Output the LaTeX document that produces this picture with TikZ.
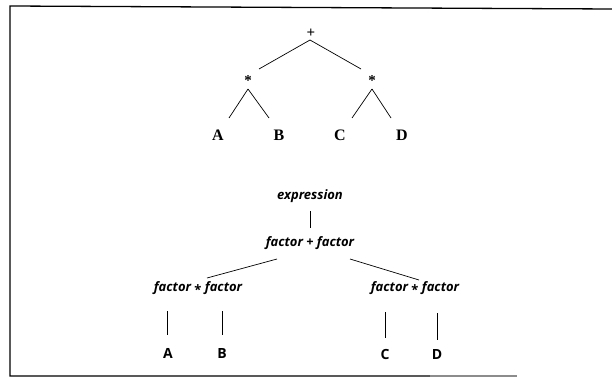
\documentclass[tikz,border=0pt]{standalone}
\usepackage{fontspec}
\setmainfont{Liberation Serif}
\newfontfamily\labfont{Open Sans}
\usetikzlibrary{calc}
\newcommand{\mstar}{\raisebox{-0.45ex}{\upshape *}}
\begin{document}
\begin{tikzpicture}[x=1pt,y=-1pt,
  topl/.style={inner sep=0pt,font=\fontsize{16}{16}\selectfont\bfseries},
  opl/.style={inner sep=0pt,font=\fontsize{15}{15}\selectfont\bfseries},
  botl/.style={inner sep=0pt,font=\labfont\fontsize{13}{13}\selectfont\bfseries\itshape},
  leaf/.style={inner sep=0pt,font=\labfont\fontsize{14}{14}\selectfont\bfseries},
  edge/.style={line width=0.7pt,black},
  frame/.style={line width=1.3pt,black}]
\useasboundingbox (0,0) rectangle (612,377);
% frame
\coordinate (f1) at (10,6);
\coordinate (f2) at (612,9);
\coordinate (f3) at (10,376);
\coordinate (f4) at (430,376);
\coordinate (f5) at (517,376);
\draw[frame] (f2) -- (f1) -- (f3) -- (f4);
\draw[frame,black!45] (f4) -- (f5);
% top tree
\node[opl] (plus) at (311,33) {+};
\node[opl] (sL) at (248,81) {*};
\node[opl] (sR) at (372,81) {*};
\node[topl] (tA) at (218,135) {A};
\node[topl] (tB) at (279,135) {B};
\node[topl] (tC) at (340,135) {C};
\node[topl] (tD) at (402,135) {D};
\draw[edge] ($(plus)+(-1,7)$) -- ($(sL)+(11,-12)$);
\draw[edge] ($(plus)+(-1,7)$) -- ($(sR)+(-11,-12)$);
\draw[edge] ($(sL)+(0,8)$) -- ($(tA)+(11,-17)$);
\draw[edge] ($(sL)+(0,8)$) -- ($(tB)+(-10,-17)$);
\draw[edge] ($(sR)+(0,8)$) -- ($(tC)+(12,-17)$);
\draw[edge] ($(sR)+(0,8)$) -- ($(tD)+(-11,-17)$);
% derivation tree
\node[botl] (expr) at (310,196) {expression};
\node[botl] (fpf) at (310,243) {factor + factor};
\node[botl] (fmL) at (198,288) {factor \mstar{} factor};
\node[botl] (fmR) at (415,288) {factor \mstar{} factor};
\node[leaf] (bA) at (168,353) {A};
\node[leaf] (bB) at (222,353) {B};
\node[leaf] (bC) at (385,354) {C};
\node[leaf] (bD) at (437,354) {D};
\draw[edge] ($(expr)+(0,15)$) -- ($(fpf)+(0,-15)$);
\draw[edge] ($(fpf)+(-33,16)$) -- ($(fmL)+(9,-10)$);
\draw[edge] ($(fpf)+(40,16)$) -- ($(fmR)+(4,-8)$);
\draw[edge] ($(fmL)+(-31,23)$) -- ($(bA)+(-1,-18)$);
\draw[edge] ($(fmL)+(24,23)$) -- ($(bB)+(0,-18)$);
\draw[edge] ($(fmR)+(-30,24)$) -- ($(bC)+(0,-16)$);
\draw[edge] ($(fmR)+(22,25)$) -- ($(bD)+(0,-14)$);
\end{tikzpicture}
\end{document}
